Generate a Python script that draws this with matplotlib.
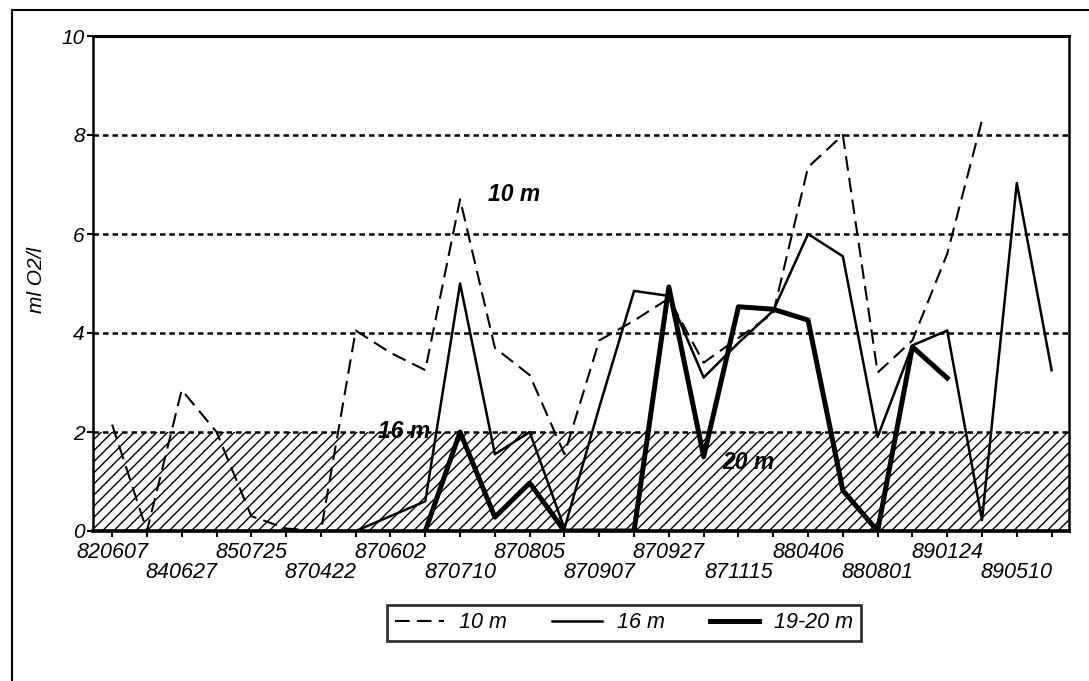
import numpy as np
import matplotlib.pyplot as plt
from matplotlib.lines import Line2D

plt.rcParams['font.family'] = ['Liberation Sans', 'DejaVu Sans']
plt.rcParams['font.style'] = 'italic'
plt.rcParams['hatch.linewidth'] = 1.0

nan = np.nan

# sampling dates (only every second one is labelled on the axis)
dates = ["820607", "", "840627", "", "850725", "", "870422", "",
         "870602", "", "870710", "", "870805", "", "870907", "",
         "870927", "", "871115", "", "880406", "", "880801", "",
         "890124", "", "890510", ""]

# oxygen, ml O2/l
o2_10m = [2.15, 0.0, 2.85, 2.0, 0.3, 0.05, 0.0, 4.05, 3.6, 3.25,
          6.7, 3.7, 3.15, 1.55, 3.85, 4.25, 4.7, 3.4, 3.9, 4.4,
          7.35, 8.0, 3.2, 3.85, 5.6, 8.3, nan, nan]
o2_16m = [nan, nan, nan, nan, nan, nan, nan, 0.0, 0.3, 0.6,
          5.0, 1.55, 2.0, 0.05, 2.5, 4.85, 4.75, 3.1, 3.8, 4.45,
          6.0, 5.55, 1.9, 3.75, 4.05, 0.22, 7.03, 3.25]
o2_20m = [nan, nan, nan, nan, nan, nan, nan, nan, nan, 0.0,
          2.0, 0.28, 0.97, 0.0, 0.0, 0.0, 4.93, 1.5, 4.53, 4.48,
          4.26, 0.82, 0.0, 3.72, 3.09, nan, nan, nan]

x = np.arange(len(dates))

fig = plt.figure(figsize=(10.89, 6.81), dpi=100)
ax = fig.add_axes([93 / 1089, 150 / 681, 976 / 1089, 495 / 681])

# hypoxic band below 2 ml/l
ax.axhspan(0, 2, facecolor="white", edgecolor="black", hatch="///",
           linewidth=0, zorder=1)

for yv in [2, 4, 6, 8]:
    ax.axhline(yv, color="black", lw=1.8, linestyle=(0, (2.2, 1.6)), zorder=2)

ax.plot(x, o2_10m, color="black", lw=1.5, dashes=(7, 3.5), label="10 m", zorder=3)
ax.plot(x, o2_16m, color="black", lw=1.8, label="16 m", zorder=4)
ax.plot(x, o2_20m, color="black", lw=3.6, label="19-20 m", zorder=5)

ax.set_xlim(-0.55, 27.5)
ax.set_ylim(0, 10)
ax.set_yticks([0, 2, 4, 6, 8, 10])
ax.tick_params(axis="y", direction="out", length=4, width=1.5, pad=2, labelsize=15)
for lab in ax.get_yticklabels():
    lab.set_verticalalignment("center_baseline")

# two rows of date labels
top_pos = [i for i in x if i % 4 == 0]
low_pos = [i for i in x if i % 4 != 0]
ax.set_xticks(top_pos)
ax.set_xticklabels([dates[i] for i in top_pos])
ax.set_xticks(low_pos, minor=True)
ax.set_xticklabels([dates[i] for i in low_pos], minor=True)
ax.tick_params(axis="x", which="both", direction="out", length=4, width=1.5,
               labelsize=15.5)
ax.tick_params(axis="x", which="major", pad=4)
ax.tick_params(axis="x", which="minor", pad=18)

ax.spines["bottom"].set_linewidth(2.6)
ax.spines["left"].set_linewidth(1.8)
ax.spines["top"].set_linewidth(2.2)
ax.spines["right"].set_linewidth(1.8)

ax.text(11.55, 6.79, "10 m", fontsize=16.5, fontweight="bold", ha="center", va="center", zorder=6)
ax.text(8.39, 2.0, "16 m", fontsize=16.5, fontweight="bold", ha="center", va="center", zorder=6)
ax.text(18.28, 1.39, "20 m", fontsize=16.5, fontweight="bold", ha="center", va="center", zorder=6)

fig.text(37 / 1089, 1 - 280 / 681, "ml O2/l", rotation=90, fontsize=15,
         ha="center", va="center")

leg = fig.legend(loc="center", bbox_to_anchor=(624 / 1089, 1 - 623 / 681), ncol=3,
                 fontsize=15.5, frameon=True, fancybox=False, edgecolor="black",
                 handlelength=2.3, handletextpad=0.7, columnspacing=2.1,
                 borderpad=0.35)
leg.get_frame().set_linewidth(2.0)

# outer frame of the scanned page
fig.add_artist(Line2D([12 / 1089, 12 / 1089], [0, 1 - 10 / 681], color="black", lw=1.5,
                      transform=fig.transFigure))
fig.add_artist(Line2D([12 / 1089, 1], [1 - 10 / 681, 1 - 10 / 681], color="black", lw=1.5,
                      transform=fig.transFigure))

fig.savefig("out.png", dpi=100)
